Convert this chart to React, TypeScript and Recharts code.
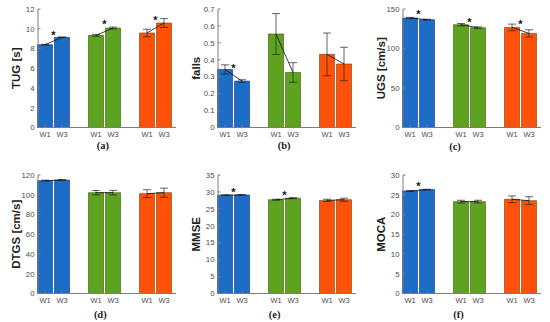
import React from "react";
import { ComposedChart, Bar, Line, Scatter, XAxis, YAxis, ErrorBar, Cell } from "recharts";

// x slots: three groups of two weeks, with an empty slot between groups
const SLOTS = ["b1", "b3", "gap1", "g1", "g3", "gap2", "o1", "o3"];
const SLOT_LABELS = ["W1", "W3", "", "W1", "W3", "", "W1", "W3"];
const TICK_SLOTS = ["b1", "b3", "g1", "g3", "o1", "o3"];

// per panel: [blue W1, blue W3, green W1, green W3, orange W1, orange W3]
const tugMean = [8.38, 9.13, 9.33, 10.07, 9.57, 10.58];
const tugErr = [0.05, 0.04, 0.1, 0.1, 0.38, 0.45];
const tugStars = [9.6, 10.65, 11.1];
const tugTicks = [0, 2, 4, 6, 8, 10, 12];

const fallsMean = [0.343, 0.274, 0.552, 0.325, 0.432, 0.375];
const fallsErr = [0.027, 0.008, 0.121, 0.058, 0.126, 0.099];
const fallsStars = [0.363, null, null];
const fallsTicks = [0, 0.1, 0.2, 0.3, 0.4, 0.5, 0.6, 0.7];

const ugsMean = [138.6, 136.5, 130.1, 126.3, 126.7, 119.1];
const ugsErr = [0.8, 0.6, 1.5, 1.1, 4.2, 4.6];
const ugsStars = [146.2, 136.2, 133.6];
const ugsTicks = [0, 50, 100, 150];

const dtgsMean = [114.3, 114.9, 102.1, 102.1, 101.1, 102.1];
const dtgsErr = [0.5, 0.5, 2.2, 2.3, 4.0, 4.6];
const dtgsStars = [null, null, null];
const dtgsTicks = [0, 20, 40, 60, 80, 100, 120];

const mmseMean = [29.05, 29.1, 27.7, 28.15, 27.5, 27.7];
const mmseErr = [0.1, 0.1, 0.15, 0.15, 0.35, 0.45];
const mmseStars = [30.7, 29.7, null];
const mmseTicks = [0, 5, 10, 15, 20, 25, 30, 35];

const mocaMean = [25.95, 26.3, 23.25, 23.25, 23.85, 23.5];
const mocaErr = [0.1, 0.1, 0.35, 0.35, 0.85, 1.0];
const mocaStars = [27.6, null, null];
const mocaTicks = [0, 5, 10, 15, 20, 25, 30];

const FILLS = ["#1d6cc6", "#5ea31f", "#ff5208"];
const EDGES = ["#22408f", "#476a16", "#8f4a12"];
const AXIS = "#7d7d7d";
const TEXT = "#4d4d4d";
const SANS = "'Liberation Sans', Arial, sans-serif";
const SERIF = "'Liberation Serif', 'Times New Roman', serif";

function buildRows(mean: number[], err: number[], stars: (number | null)[]) {
  let k = 0;
  return SLOTS.map((id, i) => {
    if (id.startsWith("gap")) return { id, label: "", v: null, e: null, star: null, grp: -1 };
    const grp = Math.floor(k / 2);
    const row = { id, label: SLOT_LABELS[i], v: mean[k], e: err[k], star: k % 2 === 0 ? stars[grp] : null, grp };
    k++;
    return row;
  });
}

const panels = [
  { title: "TUG [s]", letter: "(a)", rows: buildRows(tugMean, tugErr, tugStars), ticks: tugTicks, plotLeft: 37.7, plotTop: 9.3, letterX: 102.5, letterY: 145.7 },
  { title: "falls", letter: "(b)", rows: buildRows(fallsMean, fallsErr, fallsStars), ticks: fallsTicks, plotLeft: 217.7, plotTop: 9.3, letterX: 283.8, letterY: 145.7 },
  { title: "UGS [cm/s]", letter: "(c)", rows: buildRows(ugsMean, ugsErr, ugsStars), ticks: ugsTicks, plotLeft: 402.7, plotTop: 9.3, letterX: 454.7, letterY: 146.3 },
  { title: "DTGS [cm/s]", letter: "(d)", rows: buildRows(dtgsMean, dtgsErr, dtgsStars), ticks: dtgsTicks, plotLeft: 37.7, plotTop: 174.7, letterX: 100, letterY: 314 },
  { title: "MMSE", letter: "(e)", rows: buildRows(mmseMean, mmseErr, mmseStars), ticks: mmseTicks, plotLeft: 217.7, plotTop: 174.7, letterX: 274.3, letterY: 314 },
  { title: "MOCA", letter: "(f)", rows: buildRows(mocaMean, mocaErr, mocaStars), ticks: mocaTicks, plotLeft: 402.7, plotTop: 174.7, letterX: 458.3, letterY: 314 },
];

const Y_W = 38;
const PLOT_H = 118.5;
const TOP_M = 9;

function StarShape(props: any) {
  const { cx, cy, payload } = props;
  if (!payload || payload.star == null) return <g />;
  return (
    <text x={cx + 8.5} y={cy + 6} textAnchor="middle" fontSize={11} fontWeight="bold" fill="#111" fontFamily={SANS}>
      *
    </text>
  );
}

function Panel({ p }: { p: any }) {
  const left = p.plotLeft - Y_W;
  const top = p.plotTop - TOP_M;
  const max = p.ticks[p.ticks.length - 1];
  const pad = { left: -1.5, right: 3.5 };
  return (
    <div style={{ position: "absolute", left, top }}>
      <ComposedChart width={182} height={160} data={p.rows} margin={{ top: TOP_M, right: 6, bottom: 160 - TOP_M - PLOT_H - 24, left: 0 }}>
        <XAxis
          xAxisId="b"
          dataKey="id"
          ticks={TICK_SLOTS}
          tickFormatter={(v: string) => SLOT_LABELS[SLOTS.indexOf(v)]}
          padding={pad}
          height={24}
          stroke={AXIS}
          tickSize={-2.5}
          tickMargin={6.5}
          tick={{ fontSize: 7.5, fill: TEXT, fontFamily: SANS }}
          label={() => (
            <text x={p.letterX - left} y={p.letterY - top + 3.5} textAnchor="middle" fontSize={10.5} fontWeight="bold" fill="#222" fontFamily={SERIF}>
              {p.letter}
            </text>
          )}
        />
        <XAxis xAxisId="t" orientation="top" dataKey="id" ticks={TICK_SLOTS} padding={pad} height={0} stroke={AXIS} tick={false} tickSize={-2.5} />
        <YAxis
          yAxisId="l"
          domain={[0, max]}
          ticks={p.ticks}
          width={Y_W}
          stroke={AXIS}
          tickSize={-2.5}
          tickMargin={6}
          tick={{ fontSize: 7.8, fill: TEXT, fontFamily: SANS }}
          label={() => {
            const x = Y_W - 22.7 + 4.2;
            const y = TOP_M + PLOT_H / 2;
            return (
              <text x={x} y={y} transform={`rotate(-90, ${x}, ${y})`} textAnchor="middle" fontSize={11.5} fontWeight="bold" fill="#222" fontFamily={SANS}>
                {p.title}
              </text>
            );
          }}
        />
        <YAxis yAxisId="r" orientation="right" domain={[0, max]} ticks={p.ticks} width={0} stroke={AXIS} tick={false} tickSize={-2.5} />
        <Bar xAxisId="b" yAxisId="l" dataKey="v" barSize={15} isAnimationActive={false}>
          {p.rows.map((r: any) => (
            <Cell key={r.id} fill={r.grp >= 0 ? FILLS[r.grp] : "none"} stroke={r.grp >= 0 ? EDGES[r.grp] : "none"} strokeWidth={0.7} />
          ))}
          <ErrorBar dataKey="e" width={4} stroke="#222" strokeWidth={0.7} />
        </Bar>
        <Line xAxisId="b" yAxisId="l" dataKey="v" stroke="#111" strokeWidth={0.8} dot={false} connectNulls={false} isAnimationActive={false} />
        <Scatter xAxisId="b" yAxisId="l" dataKey="star" shape={StarShape} isAnimationActive={false} />
      </ComposedChart>
    </div>
  );
}

export default function App() {
  return (
    <div style={{ position: "absolute", left: 0, top: 0, width: 550, height: 322, background: "#fff" }}>
      {panels.map((p) => (
        <Panel key={p.letter} p={p} />
      ))}
    </div>
  );
}
